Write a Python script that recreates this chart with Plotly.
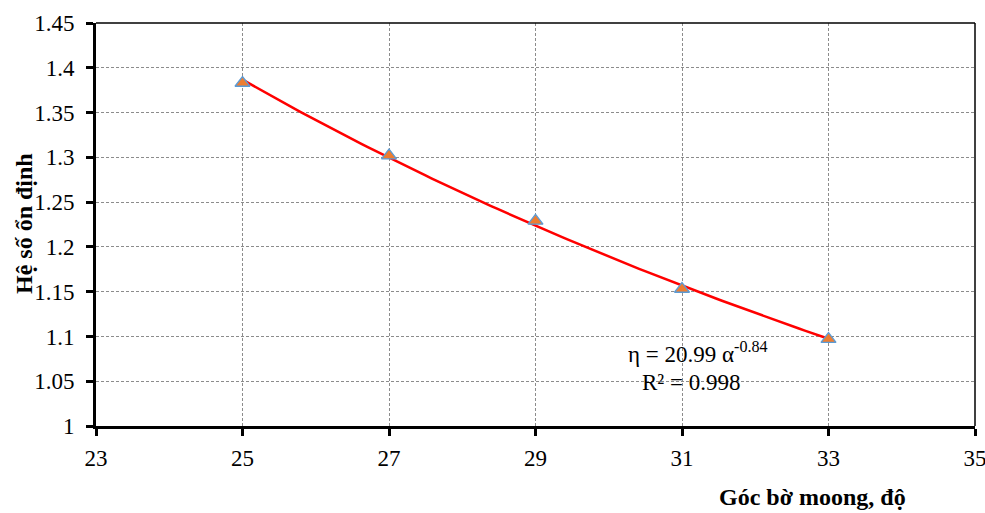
import numpy as np
import plotly.graph_objects as go

# Data
angle = [25, 27, 29, 31, 33]
factor = [1.383, 1.302, 1.229, 1.153, 1.097]
x_ticks = [23, 25, 27, 29, 31, 33, 35]
y_ticks = [1.0, 1.05, 1.1, 1.15, 1.2, 1.25, 1.3, 1.35, 1.4, 1.45]
y_tick_labels = ["1", "1.05", "1.1", "1.15", "1.2", "1.25", "1.3", "1.35", "1.4", "1.45"]
x_title = "Góc bờ moong, độ"
y_title = "Hệ số ổn định"
eq_text = "η = 20.99 α<sup>-0.84</sup>"
r2_text = "R² = 0.998"

# Power trendline fitted from the data
b, ln_a = np.polyfit(np.log(angle), np.log(factor), 1)
xf = np.linspace(min(angle), max(angle), 100)
yf = np.exp(ln_a) * xf ** b

FONT = "Liberation Serif, Times New Roman, serif"

# screen plot-area box (page body margin removed below)
PL, PR, PT, PB = 96, 975, 23, 426
W, H = 985, 513


def px(sx):
    return (sx - PL) / (PR - PL)


def py(sy):
    return (PB - sy) / (PB - PT)


fig = go.Figure()
fig.add_trace(go.Scatter(x=xf, y=yf, mode="lines",
                         line=dict(color="#FF0000", width=2.5),
                         hoverinfo="skip", showlegend=False))
fig.add_trace(go.Scatter(x=angle, y=factor, mode="markers",
                         marker=dict(symbol="triangle-up", size=13, color="#ED7D31",
                                     line=dict(color="#5B9BD5", width=1.3)),
                         showlegend=False))

grid = dict(showgrid=True, gridcolor="#8c8c8c", griddash="3px,2px", gridwidth=1)

fig.update_layout(
    width=W, height=H, autosize=False,
    margin=dict(l=PL, r=W - PR, t=PT, b=H - PB, autoexpand=False),
    plot_bgcolor="white", paper_bgcolor="white",
    font=dict(family=FONT, size=23, color="black"),
    xaxis=dict(range=[23, 35], tickvals=x_ticks, ticktext=[str(v) for v in x_ticks],
               showline=True, linecolor="black", linewidth=3,
               ticks="outside", ticklen=7, tickwidth=3, tickcolor="black",
               zeroline=False, ticklabelstandoff=2, ticklabeloverflow="allow", **grid),
    yaxis=dict(range=[1.0, 1.45], tickvals=y_ticks, ticktext=y_tick_labels,
               showline=True, linecolor="black", linewidth=3,
               ticks="outside", ticklen=7, tickwidth=3, tickcolor="black",
               zeroline=False, ticklabelstandoff=7, ticklabeloverflow="allow", **grid),
    shapes=[
        dict(type="line", xref="paper", yref="paper", x0=0, x1=1, y0=1, y1=1,
             line=dict(color="black", width=1.5)),
        dict(type="line", xref="paper", yref="paper", x0=1, x1=1, y0=0, y1=1,
             line=dict(color="black", width=1.5)),
    ],
    annotations=[
        dict(text=eq_text, x=31.22, y=1.0826, xref="x", yref="y", showarrow=False,
             font=dict(family=FONT, size=23), xanchor="center", yanchor="middle"),
        dict(text=r2_text, x=31.12, y=1.049, xref="x", yref="y", showarrow=False,
             font=dict(family=FONT, size=23), xanchor="center", yanchor="middle"),
        dict(text="<b>" + x_title + "</b>", x=px(812), y=py(497), xref="paper", yref="paper",
             showarrow=False, font=dict(family=FONT, size=24),
             xanchor="center", yanchor="middle"),
        dict(text="<b>" + y_title + "</b>", x=px(24), y=py(224), xref="paper", yref="paper",
             showarrow=False, textangle=-90, font=dict(family=FONT, size=24),
             xanchor="center", yanchor="middle"),
    ],
)

fig.write_html("out.html",
               config={"displayModeBar": False},
               post_script="document.body.style.margin='0';document.body.style.overflow='hidden';")
